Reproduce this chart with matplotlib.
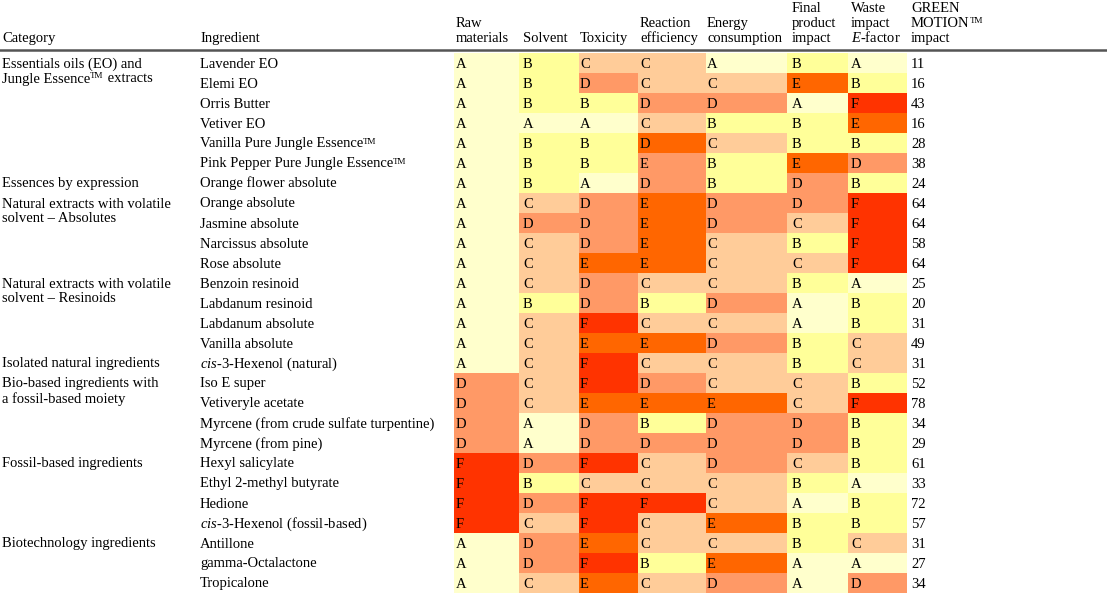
import numpy as np
import matplotlib
matplotlib.use('Agg')
import matplotlib.pyplot as plt
from matplotlib.colors import ListedColormap

plt.rcParams['font.family'] = ['Liberation Serif', 'DejaVu Serif']
plt.rcParams['mathtext.fontset'] = 'custom'
plt.rcParams['mathtext.rm'] = 'Liberation Serif'
plt.rcParams['mathtext.it'] = 'Liberation Serif:italic'

TM = '\u2122'

# table data
criteria = ['Raw\nmaterials', 'Solvent', 'Toxicity', 'Reaction\nefficiency',
            'Energy\nconsumption', 'Final\nproduct\nimpact',
            'Waste\nimpact\n$\\mathit{E}$-factor']
score_header = 'GREEN\nMOTION' + TM + '\nimpact'

categories = [
    (0, 'Essentials oils (EO) and\nJungle Essence' + TM + ' extracts'),
    (6, 'Essences by expression'),
    (7, 'Natural extracts with volatile\nsolvent \u2013 Absolutes'),
    (11, 'Natural extracts with volatile\nsolvent \u2013 Resinoids'),
    (15, 'Isolated natural ingredients'),
    (16, 'Bio-based ingredients with\na fossil-based moiety'),
    (20, 'Fossil-based ingredients'),
    (24, 'Biotechnology ingredients'),
]

ingredients = [
    'Lavender EO', 'Elemi EO', 'Orris Butter', 'Vetiver EO',
    'Vanilla Pure Jungle Essence' + TM, 'Pink Pepper Pure Jungle Essence' + TM,
    'Orange flower absolute', 'Orange absolute', 'Jasmine absolute',
    'Narcissus absolute', 'Rose absolute', 'Benzoin resinoid',
    'Labdanum resinoid', 'Labdanum absolute', 'Vanilla absolute',
    '$\\mathit{cis}$-3-Hexenol (natural)', 'Iso E super', 'Vetiveryle acetate',
    'Myrcene (from crude sulfate turpentine)', 'Myrcene (from pine)',
    'Hexyl salicylate', 'Ethyl 2-methyl butyrate', 'Hedione',
    '$\\mathit{cis}$-3-Hexenol (fossil-based)', 'Antillone',
    'gamma-Octalactone', 'Tropicalone',
]

grades = [
    'ABCCABA', 'ABDCCEB', 'ABBDDAF', 'AAACBBE', 'ABBDCBB', 'ABBEBED',
    'ABADBDB', 'ACDEDDF', 'ADDEDCF', 'ACDECBF', 'ACEECCF', 'ACDCCBA',
    'ABDBDAB', 'ACFCCAB', 'ACEEDBC', 'ACFCCBC', 'DCFDCCB', 'DCEEECF',
    'DADBDDB', 'DADDDDB', 'FDFCDCB', 'FBCCCBA', 'FDFFCAB', 'FCFCEBB',
    'ADECCBC', 'ADFBEAA', 'ACECDAD',
]

scores = [11, 16, 43, 16, 28, 38, 24, 64, 64, 58, 64, 25, 20, 31, 49, 31,
          52, 78, 34, 29, 61, 33, 72, 57, 31, 27, 34]

# cells whose shading differs from their letter in the original
shade_override = {(4, 3): 'E', (5, 3): 'D'}

letters = 'ABCDEF'
palette = ['#FFFFCC', '#FFFF99', '#FFCC99', '#FF9966', '#FF6600', '#FF3300']

# layout (pixels)
col_edges = [454, 519, 579, 638, 706, 787, 848, 907]
col_text_x = [456, 523, 580, 640, 707, 792, 851, 911]
row0 = 63
row_h = 20
line_h = 15
base_off = 4.5
fs = 10.5

shade = np.array([[letters.index(g) for g in row] for row in grades])
for (r, c), g in shade_override.items():
    shade[r, c] = letters.index(g)

fig = plt.figure(figsize=(11.07, 5.95), dpi=100)
ax = fig.add_axes([0, 0, 1, 1])
ax.set_xlim(0, 1107)
ax.set_ylim(595, 0)
ax.axis('off')
renderer = fig.canvas.get_renderer()

n = len(ingredients)
y_edges = row0 - row_h / 2 + row_h * np.arange(n + 1)
ax.pcolormesh(col_edges, y_edges, shade, cmap=ListedColormap(palette),
              vmin=-0.5, vmax=5.5, shading='flat')


def put(x, y, s):
    # plain text, with a small raised "TM" where the string has one
    parts = s.split(TM)
    for k, part in enumerate(parts):
        if part:
            t = ax.text(x, y, part, fontsize=fs, va='baseline')
            x += t.get_window_extent(renderer).width
        if k < len(parts) - 1:
            t = ax.text(x, y - 4, 'TM', fontsize=6.5, va='baseline')
            x += t.get_window_extent(renderer).width


def put_lines(x, y_first, label, up=False):
    lines = label.split('\n')
    if up:
        y_first = y_first - line_h * (len(lines) - 1)
    for k, s in enumerate(lines):
        put(x, y_first + line_h * k, s)


head_base = 42
put_lines(2, head_base, 'Category')
put_lines(200, head_base, 'Ingredient')
for x, h in zip(col_text_x, criteria + [score_header]):
    put_lines(x, head_base, h, up=True)

ax.axhline(50, color='#555555', lw=1.8)

for i in range(n):
    y = row0 + row_h * i + base_off
    put(200, y, ingredients[i])
    for j, g in enumerate(grades[i]):
        put(col_text_x[j], y, g)
    put(col_text_x[-1], y, str(scores[i]))

for r, label in categories:
    put_lines(2, row0 + row_h * r + base_off, label)

fig.savefig('out.png', dpi=100)
